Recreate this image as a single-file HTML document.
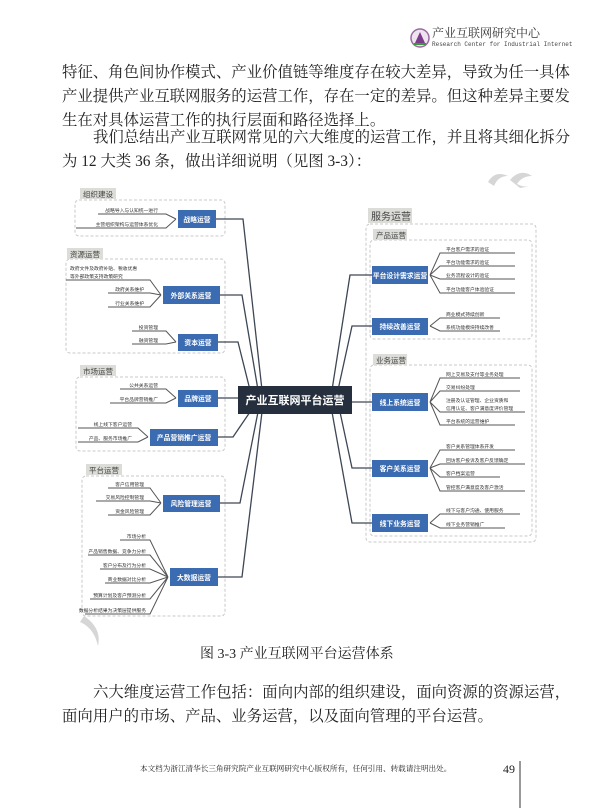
<!DOCTYPE html>
<html><head><meta charset="utf-8"><style>
body{margin:0;background:#fff;}
#p{position:relative;width:600px;height:808px;overflow:hidden;font-family:"Liberation Serif","Noto Serif CJK SC",serif;color:#222;}
.t{position:absolute;left:62px;font-size:15.4px;line-height:24px;white-space:nowrap;}
</style></head><body><div id="p">
<div class="t" style="top:61px;">特征、角色间协作模式、产业价值链等维度存在较大差异，导致为任一具体</div>
<div class="t" style="top:85px;">产业提供产业互联网服务的运营工作，存在一定的差异。但这种差异主要发</div>
<div class="t" style="top:109px;">生在对具体运营工作的执行层面和路径选择上。</div>
<div class="t" style="top:126px;left:93px;">我们总结出产业互联网常见的六大维度的运营工作，并且将其细化拆分</div>
<div class="t" style="top:150px;">为 12 大类 36 条，做出详细说明（见图 3-3）：</div>
<div class="t" style="top:643px;left:200px;font-size:14px;">图 3-3  产业互联网平台运营体系</div>
<div class="t" style="top:681px;left:93px;">六大维度运营工作包括：面向内部的组织建设，面向资源的资源运营，</div>
<div class="t" style="top:705px;">面向用户的市场、产品、业务运营，以及面向管理的平台运营。</div>
<div class="t" style="top:763px;left:140px;font-size:7.6px;line-height:12px;">本文档为浙江清华长三角研究院产业互联网研究中心版权所有，任何引用、转载请注明出处。</div>
<div class="t" style="top:761px;left:503px;font-size:12px;line-height:16px;">49</div>
<svg width="600" height="808" style="position:absolute;left:0;top:0" font-family="Liberation Sans,Noto Sans CJK SC,sans-serif">
<line x1="520" y1="761" x2="520" y2="808" stroke="#333" stroke-width="1"/>
<circle cx="420" cy="38" r="9" fill="#efe3ef" stroke="#9a6aa0" stroke-width="1.5"/>
<path d="M415 43 L420 32 L425 43 Z" fill="#7a3d8a"/><path d="M414 44 L426 44" stroke="#3a9a3a" stroke-width="2"/>
<text x="432" y="37" font-size="12" fill="#333" font-family="Liberation Serif,Noto Serif CJK SC,serif">产业互联网研究中心</text>
<text x="432" y="46" font-size="6" fill="#444" font-family="Liberation Mono,monospace">Research Center for Industrial Internet</text>
<path d="M488 182 Q495 170 508 176 Q498 176 494 186 Z M510 180 Q520 168 532 176 Q522 176 517 184 Q524 188 532 186 L520 188 Z" fill="#d6d6d6"/>
<path d="M84 616 Q102 628 98 646 Q94 628 80 622 Z" fill="#d6d6d6"/>
<g fill="none" stroke="#c8c8c8" stroke-dasharray="3,2">
<rect x="75" y="200" width="150" height="36" rx="4"/>
<rect x="66" y="259" width="159" height="94" rx="4"/>
<rect x="76" y="377" width="149" height="74" rx="4"/>
<rect x="82" y="476" width="143" height="140" rx="4"/>
<rect x="366" y="224" width="170" height="318" rx="4"/>
<rect x="370" y="240" width="162" height="99" rx="4"/>
<rect x="370" y="365" width="162" height="171" rx="4"/>
</g>
<g fill="#dcdcd8">
<rect x="80" y="188" width="36" height="11"/><rect x="67" y="248" width="36" height="11"/>
<rect x="80" y="365" width="36" height="11"/><rect x="86" y="464" width="36" height="11"/>
<rect x="368" y="208" width="44" height="15"/><rect x="373" y="229" width="34" height="11"/><rect x="373" y="354" width="34" height="11"/>
</g>
<g font-size="7.5" fill="#444">
<text x="83" y="197">组织建设</text><text x="70" y="257">资源运营</text><text x="83" y="374">市场运营</text><text x="89" y="473">平台运营</text>
<text x="376" y="238">产品运营</text><text x="376" y="363">业务运营</text>
<text x="371" y="220" font-size="10">服务运营</text>
</g>
<g fill="none" stroke="#3d4654" stroke-width="1.3">
<polyline points="216,219 243,219 262,390"/><polyline points="220,295 242,295 258,390"/>
<polyline points="218,342 238,342 250,390"/><polyline points="218,398 240,398"/>
<polyline points="218,437 233,437 250,412"/><polyline points="220,503 240,503 258,412"/>
<polyline points="218,577 242,577 262,412"/>
<polyline points="372,275 350,275 332,390"/><polyline points="372,326 352,326 338,390"/>
<polyline points="372,402 350,402"/><polyline points="372,468 352,468 340,412"/>
<polyline points="372,523 352,523 332,412"/>
</g>
<g fill="none" stroke="#555" stroke-width="1">
<path d="M98 214H166L176 219M76 228H166L176 219"/>
<path d="M66 280H150L161 295M108 293H150L161 295M108 307H150L161 295"/>
<path d="M132 331H166L176 342M132 344H166L176 342"/>
<path d="M120 389H166L176 398M110 403H166L176 398"/>
<path d="M78 428H138L148 437M78 442H138L148 437"/>
<path d="M108 488H150L161 503M96 501H150L161 503M108 515H150L161 503"/>
<path d="M120 540H150L168 577M88 555H150L168 577M100 569H150L168 577M105 583H150L168 577M90 599H150L168 577M85 614H150L168 577"/>
<path d="M430 275L440 253H515M430 275L440 266H515M430 275L440 279H515M430 275L440 293H515"/>
<path d="M430 326L440 318H500M430 326L440 331H500"/>
<path d="M430 402L440 378H520M430 402L440 391H520M430 402L440 412H525M430 402L440 425H515"/>
<path d="M430 468L440 450H515M430 468L440 464H525M430 468L440 477H500M430 468L440 491H525"/>
<path d="M430 523L440 514H520M430 523L440 528H505"/>
</g>
<g fill="#3b6bb0">
<rect x="178" y="210" width="38" height="18"/><rect x="163" y="286" width="57" height="18"/>
<rect x="178" y="334" width="40" height="17"/><rect x="178" y="390" width="40" height="17"/>
<rect x="150" y="429" width="68" height="17"/><rect x="163" y="495" width="57" height="17"/>
<rect x="170" y="568" width="48" height="18"/>
<rect x="372" y="266" width="56" height="18"/><rect x="372" y="318" width="56" height="17"/>
<rect x="372" y="393" width="56" height="18"/><rect x="372" y="460" width="56" height="17"/>
<rect x="372" y="514" width="56" height="18"/>
</g>
<rect x="238" y="386" width="114" height="28" fill="#262f3d"/>
<text x="295" y="404" font-size="11" font-weight="bold" fill="#fff" text-anchor="middle">产业互联网平台运营</text>
<g font-size="6.8" font-weight="bold" fill="#fff" text-anchor="middle">
<text x="197" y="222">战略运营</text><text x="191" y="298">外部关系运营</text><text x="198" y="345">资本运营</text>
<text x="198" y="401">品牌运营</text><text x="184" y="440">产品营销推广运营</text><text x="191" y="506">风险管理运营</text>
<text x="194" y="580">大数据运营</text>
<text x="400" y="278">平台设计需求运营</text><text x="400" y="329">持续改善运营</text><text x="400" y="405">线上系统运营</text>
<text x="400" y="471">客户关系运营</text><text x="400" y="526">线下业务运营</text>
</g>
<g font-size="4.8" fill="#333" text-anchor="end">
<text x="158" y="212">战略导入与认知统一进行</text><text x="158" y="226">主营组织架构与运营体系优化</text>
<text x="144" y="291">政府关系维护</text><text x="144" y="305">行业关系维护</text>
<text x="158" y="329">投资管理</text><text x="158" y="342">融资管理</text>
<text x="158" y="387">公共关系运营</text><text x="158" y="401">平台品牌营销推广</text>
<text x="132" y="426">线上线下客户运营</text><text x="132" y="440">产品、服务市场推广</text>
<text x="144" y="486">客户信用管理</text><text x="144" y="499">交易风险控制管理</text><text x="144" y="513">资金风险管理</text>
<text x="146" y="538">市场分析</text><text x="146" y="553">产品销售数据、竞争力分析</text><text x="146" y="567">客户分布及行为分析</text>
<text x="146" y="581">商业数据对比分析</text><text x="146" y="597">预算计划及客户预测分析</text><text x="146" y="612">数据分析结果为决策层提供服务</text>
</g>
<g font-size="4.8" fill="#333">
<text x="70" y="270">政府文件及政府补贴、税收优惠</text><text x="70" y="278">等外部政策支持政策研究</text>
<text x="446" y="251">平台客户需求的验证</text><text x="446" y="264">平台功能需求的验证</text>
<text x="446" y="277">业务流程设计的验证</text><text x="446" y="291">平台功能客户体验验证</text>
<text x="446" y="316">商业模式持续创新</text><text x="446" y="329">系统功能模块持续改善</text>
<text x="446" y="376">网上交易及支付等业务处理</text><text x="446" y="389">交易纠纷处理</text>
<text x="446" y="402">注册及认证管理、企业资质和</text><text x="446" y="410">信用认证、客户满意度评价管理</text>
<text x="446" y="423">平台系统的运营维护</text>
<text x="446" y="448">客户关系管理体系开发</text><text x="446" y="462">回访客户投诉及客户反馈确定</text>
<text x="446" y="475">客户档案运营</text><text x="446" y="489">管控客户满意度及客户激活</text>
<text x="446" y="512">线下与客户沟通、使用服务</text><text x="446" y="526">线下业务营销推广</text>
</g>
</svg>
</div></body></html>
